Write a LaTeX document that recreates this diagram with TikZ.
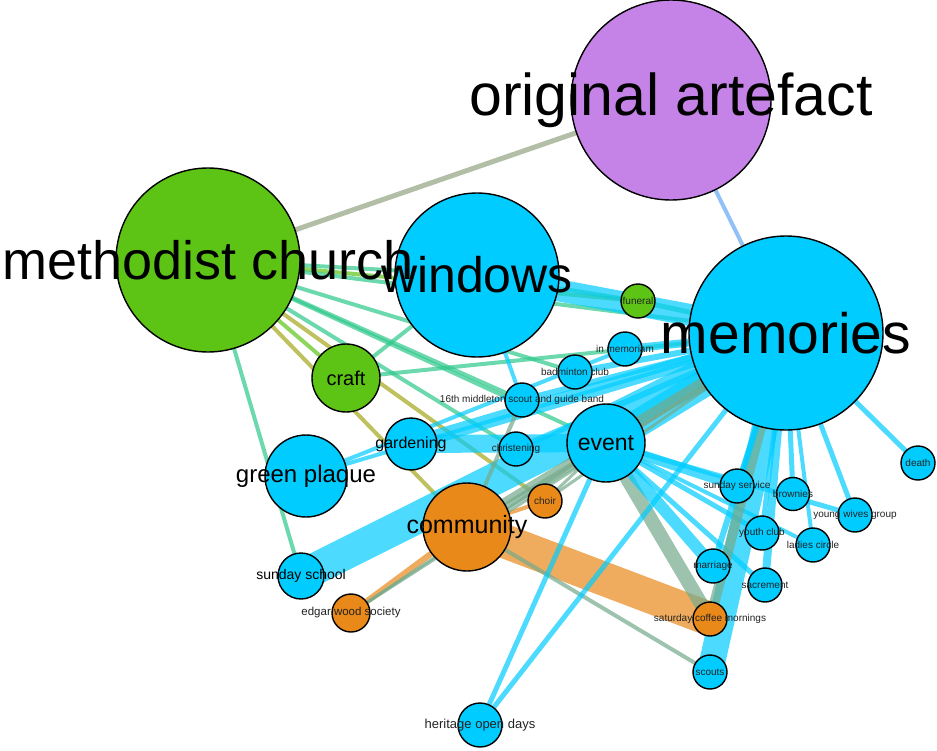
\documentclass[tikz,border=0pt]{standalone}
\usepackage{fontspec}
\setmainfont{Liberation Sans}
\definecolor{nb}{RGB}{0,204,255}
\definecolor{ng}{RGB}{93,196,22}
\definecolor{no}{RGB}{232,137,26}
\definecolor{np}{RGB}{197,131,232}
\definecolor{cbt}{RGB}{46,200,138}
\definecolor{cgo}{RGB}{162,166,24}
\definecolor{cbo}{RGB}{116,170,140}
\definecolor{cgp}{RGB}{145,163,127}
\definecolor{cbp}{RGB}{98,167,243}
\definecolor{labgray}{RGB}{34,34,34}
\pgfdeclarelayer{bg}
\pgfsetlayers{bg,main}
\tikzset{
  gnode/.style={circle,draw=black,line width=1.4pt,inner sep=0pt,minimum size=#1},
  bnode/.style={gnode=#1,fill=nb},
  grnode/.style={gnode=#1,fill=ng},
  ornode/.style={gnode=#1,fill=no},
  pnode/.style={gnode=#1,fill=np},
  eb/.style={draw=nb,draw opacity=0.7,line width=#1},
  et/.style={draw=cbt,draw opacity=0.7,line width=#1},
  eo/.style={draw=cgo,draw opacity=0.7,line width=#1},
  eg/.style={draw=cbo,draw opacity=0.7,line width=#1},
  ep/.style={draw=cgp,draw opacity=0.7,line width=#1},
  epb/.style={draw=cbp,draw opacity=0.7,line width=#1},
  egg/.style={draw=ng,draw opacity=0.7,line width=#1},
  eoo/.style={draw=no,draw opacity=0.7,line width=#1},
  lab/.style={inner sep=0pt,text=black,font=\fontsize{#1}{#1}\selectfont},
  slab/.style={inner sep=0pt,text=labgray,font=\fontsize{#1}{#1}\selectfont},
}
\begin{document}
\begin{tikzpicture}[x=1pt,y=-1pt]
\useasboundingbox (0,0) rectangle (937,750);
% nodes (circles)
\node[pnode=200pt]  (oa)    at (671,100) {};
\node[grnode=184pt] (mc)    at (208,260) {};
\node[bnode=164pt]  (win)   at (477,275) {};
\node[bnode=194pt]  (mem)   at (786,333) {};
\node[grnode=68pt]  (craft) at (346,378) {};
\node[grnode=34pt]  (fun)   at (638,301) {};
\node[bnode=34pt]   (inm)   at (625,349) {};
\node[bnode=34pt]   (bad)   at (575,372) {};
\node[bnode=34pt]   (mid)   at (522,400) {};
\node[bnode=52pt]   (gard)  at (411,444) {};
\node[bnode=34pt]   (chr)   at (516,449) {};
\node[bnode=78pt]   (ev)    at (606,443) {};
\node[bnode=82pt]   (gp)    at (306,476) {};
\node[ornode=88pt]  (com)   at (467,527) {};
\node[ornode=34pt]  (choir) at (545,501) {};
\node[bnode=46pt]   (ss)    at (301,576) {};
\node[ornode=38pt]  (ew)    at (351,613) {};
\node[bnode=44pt]   (hod)   at (480,725) {};
\node[bnode=34pt]   (sc)    at (710,672) {};
\node[ornode=34pt]  (scm)   at (710,619) {};
\node[bnode=34pt]   (sserv) at (737,486) {};
\node[bnode=33pt]   (brow)  at (793,494) {};
\node[bnode=34pt]   (yw)    at (855,515) {};
\node[bnode=34pt]   (death) at (918,463) {};
\node[bnode=34pt]   (yc)    at (762,533) {};
\node[bnode=34pt]   (lc)    at (813,545) {};
\node[bnode=34pt]   (mar)   at (713,566) {};
\node[bnode=34pt]   (sac)   at (765,585) {};
% labels
\node[slab=10] at (fun) {funeral};
\node[slab=10] at (inm) {in memoriam};
\node[slab=10] at (bad) {badminton club};
\node[slab=10] at (mid) {16th middleton scout and guide band};
\node[slab=10] at (chr) {christening};
\node[slab=10] at (choir) {choir};
\node[slab=10] at (sc) {scouts};
\node[slab=10] at (scm) {saturday coffee mornings};
\node[slab=10] at (sserv) {sunday service};
\node[slab=10] at (brow) {brownies};
\node[slab=10] at (yw) {young wives group};
\node[slab=10] at (death) {death};
\node[slab=10] at (yc) {youth club};
\node[slab=10] at (lc) {ladies circle};
\node[slab=10] at (mar) {marriage};
\node[slab=10] at (sac) {sacrement};
\node[slab=11.5] at (ew) {edgar wood society};
\node[slab=13] at (hod) {heritage open days};
\node[lab=14] at (ss) {sunday school};
\node[lab=16] at (gard) {gardening};
\node[lab=20] at (craft) {craft};
\node[lab=23] at (ev) {event};
\node[lab=24] at (gp) {green plaque};
\node[lab=25] at (com) {community};
\node[lab=50] at (win) {windows};
\node[lab=54] at (mc) {methodist church};
\node[lab=57] at (mem) {memories};
\node[lab=59] at (oa) {original artefact};
% edges
\begin{pgfonlayer}{bg}
\draw[ep=5] (mc.center) -- (oa.center);
\draw[epb=4] (oa.center) -- (mem.center);
\draw[et=4] (mc.center) -- (win.center);
\draw[egg=4] (mc.center) -- (fun.center);
\draw[et=4] (mc.center) -- (mem.center);
\draw[et=4] (mc.center) -- (bad.center);
\draw[et=4] (mc.center) -- (mid.center);
\draw[et=4] (mc.center) -- (ev.center);
\draw[et=4] (mc.center) -- (chr.center);
\draw[et=4] (mc.center) -- (ss.center);
\draw[eo=4] (mc.center) -- (com.center);
\draw[eo=4] (mc.center) -- (choir.center);
\draw[egg=4] (mc.center) -- (craft.center);
\draw[et=4] (craft.center) -- (win.center);
\draw[et=4] (craft.center) -- (mem.center);
\draw[et=4] (fun.center) -- (win.center);
\draw[et=5] (fun.center) -- (mem.center);
\draw[eb=22] (win.center) -- (mem.center);
\draw[eb=4] (win.center) -- (mid.center);
\draw[eb=8] (inm.center) -- (mem.center);
\draw[eb=6] (bad.center) -- (mem.center);
\draw[eb=6] (mid.center) -- (mem.center);
\draw[eb=6] (chr.center) -- (mem.center);
\draw[eb=14] (gard.center) -- (mem.center);
\draw[eb=18] (gard.center) -- (ev.center);
\draw[eb=28] (ev.center) -- (mem.center);
\draw[eb=32] (ss.center) -- (mem.center);
\draw[eb=4] (gp.center) -- (mem.center);
\draw[eb=4] (gp.center) -- (inm.center);
\draw[eg=12] (com.center) -- (mem.center);
\draw[eg=3] (com.center) -- (ev.center);
\draw[eoo=34] (com.center) -- (scm.center);
\draw[eg=4] (com.center) -- (sc.center);
\draw[eg=4] (com.center) -- (mid.center);
\draw[eoo=6] (com.center) -- (ew.center);
\draw[eoo=4] (com.center) -- (choir.center);
\draw[eg=3] (ew.center) -- (mem.center);
\draw[eg=3] (ew.center) -- (ev.center);
\draw[eg=3] (choir.center) -- (ev.center);
\draw[eg=3] (choir.center) -- (mem.center);
\draw[eg=14] (ev.center) -- (scm.center);
\draw[eb=12] (ev.center) -- (mar.center);
\draw[eb=10] (ev.center) -- (sserv.center);
\draw[eb=5] (ev.center) -- (yc.center);
\draw[eb=5] (ev.center) -- (sac.center);
\draw[eb=4] (ev.center) -- (lc.center);
\draw[eb=5] (ev.center) -- (yw.center);
\draw[eb=26] (mem.center) -- (sc.center);
\draw[eg=10] (mem.center) -- (scm.center);
\draw[eb=6] (mem.center) -- (mar.center);
\draw[eb=8] (mem.center) -- (sac.center);
\draw[eb=5] (mem.center) -- (yc.center);
\draw[eb=5] (mem.center) -- (brow.center);
\draw[eb=4] (mem.center) -- (lc.center);
\draw[eb=5] (mem.center) -- (yw.center);
\draw[eb=5] (mem.center) -- (death.center);
\draw[eb=5] (mem.center) -- (sserv.center);
\draw[eb=5] (mem.center) -- (hod.center);
\draw[eb=5] (ev.center) -- (hod.center);
\end{pgfonlayer}
\end{tikzpicture}
\end{document}
